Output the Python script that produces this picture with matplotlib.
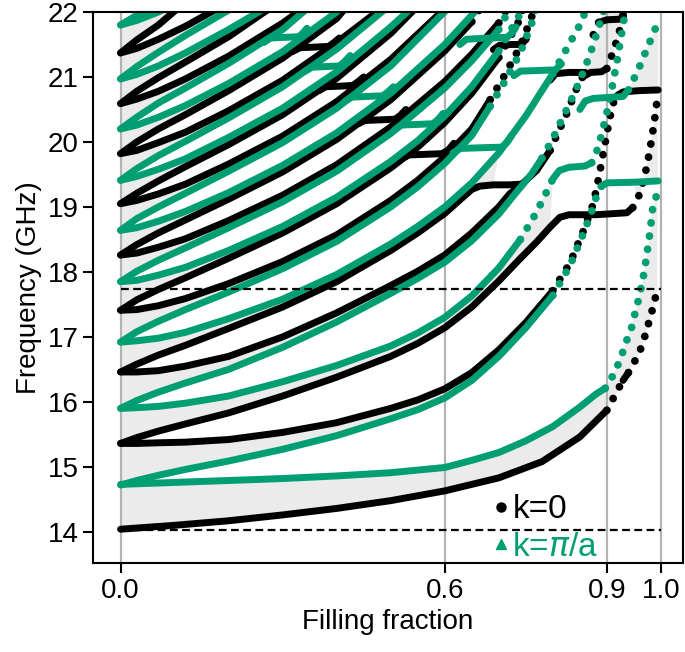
import numpy as np
import matplotlib.pyplot as plt

plt.rcParams['font.family'] = ['Liberation Sans', 'DejaVu Sans']

GREEN = '#009E73'

# band edges: (filling fraction, frequency in GHz)
# ---- k=0 (black) ----
b01 = [(0.0, 14.04), (0.1, 14.1), (0.2, 14.17), (0.3, 14.26), (0.4, 14.36), (0.5, 14.48),
       (0.6, 14.63), (0.7, 14.83), (0.78, 15.08), (0.85, 15.46), (0.9, 15.87), (0.918, 16.15),
       (0.93, 16.33), (0.94, 16.45), (0.95, 16.6), (0.96, 16.75), (0.966, 16.9), (0.972, 17.05),
       (0.977, 17.2), (0.982, 17.35), (0.987, 17.5), (0.993, 17.72)]
b02 = [(0, 15.36), (0.03, 15.36), (0.07, 15.37), (0.12, 15.38), (0.2, 15.42), (0.3, 15.53),
       (0.4, 15.68), (0.5, 15.9), (0.55, 16.03), (0.6, 16.2), (0.65, 16.45), (0.7, 16.8),
       (0.75, 17.22), (0.8, 17.71), (0.832, 18.14), (0.857, 18.64), (0.875, 19.05),
       (0.885, 19.45), (0.895, 19.9), (0.905, 20.35), (0.912, 20.6), (0.92, 20.72),
       (0.93, 20.77), (0.96, 20.79), (0.995, 20.8)]
b03 = [(0, 15.36), (0.03, 15.45), (0.07, 15.55), (0.12, 15.66), (0.2, 15.83), (0.3, 16.09),
       (0.4, 16.38), (0.5, 16.7), (0.55, 16.9), (0.6, 17.14), (0.65, 17.46), (0.7, 17.86),
       (0.739, 18.2), (0.77, 18.46), (0.795, 18.69), (0.813, 18.84), (0.83, 18.88),
       (0.88, 18.88), (0.937, 18.91), (0.948, 18.99), (0.955, 19.1), (0.962, 19.22),
       (0.968, 19.42), (0.974, 19.62), (0.979, 19.85), (0.984, 20.1), (0.989, 20.38),
       (0.993, 20.64)]
b04 = [(0, 16.46), (0.03, 16.46), (0.07, 16.48), (0.12, 16.55), (0.2, 16.7), (0.3, 17.0),
       (0.4, 17.37), (0.5, 17.79), (0.55, 18.01), (0.6, 18.26), (0.65, 18.6), (0.7, 19.0),
       (0.72, 19.2), (0.74, 19.33), (0.77, 19.56), (0.795, 19.87), (0.81, 20.15),
       (0.826, 20.44), (0.844, 20.82), (0.855, 21.0), (0.87, 21.07), (0.89, 21.08),
       (0.9, 21.13), (0.91, 21.35), (0.92, 21.6), (0.928, 21.85), (0.934, 22.05)]
b05 = [(0, 16.46), (0.03, 16.58), (0.07, 16.72), (0.12, 16.87), (0.2, 17.13), (0.3, 17.46),
       (0.4, 17.85), (0.5, 18.33), (0.55, 18.6), (0.6, 18.9), (0.65, 19.27), (0.665, 19.32),
       (0.69, 19.34), (0.72, 19.34), (0.74, 19.35)]
b06 = [(0, 17.41), (0.03, 17.42), (0.07, 17.48), (0.12, 17.59), (0.2, 17.82), (0.3, 18.16),
       (0.4, 18.57), (0.5, 19.1), (0.55, 19.41), (0.6, 19.77), (0.65, 20.2), (0.684, 20.65),
       (0.709, 21.0), (0.739, 21.46), (0.76, 21.9), (0.767, 22.1)]
b07 = [(0, 17.41), (0.03, 17.57), (0.07, 17.73), (0.12, 17.91), (0.2, 18.21), (0.3, 18.6),
       (0.4, 19.05), (0.5, 19.6), (0.55, 19.92), (0.6, 20.3), (0.65, 20.75), (0.7, 21.3),
       (0.74, 21.9), (0.745, 22.05)]
b08 = [(0, 18.26), (0.03, 18.29), (0.07, 18.38), (0.12, 18.51), (0.2, 18.79), (0.3, 19.18),
       (0.4, 19.65), (0.5, 20.23), (0.6, 20.93), (0.65, 21.35), (0.7, 21.83), (0.715, 22.05)]
b09 = [(0, 18.26), (0.03, 18.42), (0.07, 18.6), (0.12, 18.8), (0.2, 19.12), (0.3, 19.54),
       (0.4, 20.04), (0.5, 20.65), (0.6, 21.4), (0.65, 21.85), (0.665, 22.05)]
b10 = [(0, 19.05), (0.03, 19.1), (0.07, 19.2), (0.12, 19.35), (0.2, 19.66), (0.3, 20.09),
       (0.4, 20.62), (0.5, 21.27), (0.6, 22.05)]
b11 = [(0, 19.05), (0.03, 19.21), (0.07, 19.4), (0.12, 19.62), (0.2, 19.96), (0.3, 20.42),
       (0.4, 20.98), (0.5, 21.67), (0.545, 22.05)]
b12 = [(0, 19.82), (0.03, 19.87), (0.07, 19.99), (0.12, 20.15), (0.2, 20.48), (0.3, 20.95),
       (0.4, 21.53), (0.49, 22.1)]
b13 = [(0, 19.82), (0.03, 20.0), (0.07, 20.2), (0.12, 20.42), (0.2, 20.79), (0.3, 21.29),
       (0.4, 21.9), (0.415, 22.05)]
b14 = [(0, 20.59), (0.03, 20.66), (0.07, 20.78), (0.12, 20.97), (0.2, 21.32), (0.3, 21.83),
       (0.34, 22.07)]
b15 = [(0, 20.59), (0.03, 20.78), (0.07, 20.99), (0.12, 21.23), (0.2, 21.62), (0.275, 22.05)]
b16 = [(0, 21.37), (0.03, 21.44), (0.07, 21.58), (0.12, 21.78), (0.2, 22.15)]
b17 = [(0, 21.37), (0.03, 21.57), (0.07, 21.8), (0.105, 22.05)]
# k=0 plateaus (avoided crossings)
bs1 = [(0.318, 21.39), (0.332, 21.45), (0.36, 21.46), (0.385, 21.47), (0.395, 21.53), (0.405, 21.6)]
bs2 = [(0.367, 20.79), (0.38, 20.85), (0.41, 20.86), (0.43, 20.87), (0.44, 20.93), (0.45, 21.0)]
bs3 = [(0.44, 20.28), (0.452, 20.33), (0.48, 20.34), (0.508, 20.35), (0.518, 20.41), (0.528, 20.5)]
bs4 = [(0.52, 19.74), (0.534, 19.8), (0.565, 19.81), (0.595, 19.82), (0.607, 19.88), (0.617, 19.98)]
bs5 = [(0.69, 21.42), (0.702, 21.49), (0.725, 21.5), (0.742, 21.5), (0.75, 21.58), (0.755, 21.68)]
bs6 = [(0.795, 20.95), (0.805, 21.05), (0.83, 21.07), (0.86, 21.07)]
bs7 = [(0.875, 21.65), (0.885, 21.84), (0.9, 21.88), (0.925, 21.89), (0.93, 21.95), (0.933, 22.05)]

# ---- k=pi/a (green) ----
g01 = [(0.0, 14.73), (0.1, 14.76), (0.2, 14.79), (0.3, 14.82), (0.4, 14.86), (0.5, 14.91),
       (0.6, 14.99), (0.65, 15.1), (0.7, 15.22), (0.75, 15.4), (0.8, 15.62), (0.85, 15.92),
       (0.88, 16.12), (0.897, 16.21), (0.906, 16.33), (0.915, 16.46), (0.923, 16.62),
       (0.931, 16.8), (0.939, 17.0), (0.946, 17.15), (0.952, 17.36), (0.96, 17.62),
       (0.967, 17.9), (0.973, 18.21), (0.98, 18.62), (0.985, 18.99), (0.994, 19.23)]
g02 = [(0, 14.72), (0.03, 14.79), (0.07, 14.87), (0.12, 14.96), (0.2, 15.09), (0.3, 15.27),
       (0.4, 15.48), (0.5, 15.74), (0.55, 15.88), (0.6, 16.06), (0.65, 16.33), (0.7, 16.7),
       (0.75, 17.14), (0.8, 17.64), (0.832, 18.1), (0.857, 18.6), (0.875, 19.0), (0.882, 19.2),
       (0.89, 19.32), (0.9, 19.37), (0.95, 19.38), (0.995, 19.4)]
g03 = [(0, 15.9), (0.03, 15.91), (0.07, 15.93), (0.12, 15.98), (0.2, 16.09), (0.3, 16.31),
       (0.4, 16.56), (0.5, 16.86), (0.55, 17.06), (0.6, 17.3), (0.65, 17.63), (0.7, 18.06),
       (0.74, 18.5), (0.77, 18.92), (0.789, 19.24), (0.8, 19.43), (0.812, 19.56), (0.83, 19.61),
       (0.86, 19.63), (0.872, 19.68), (0.88, 19.82), (0.89, 20.1), (0.9, 20.45), (0.91, 20.85),
       (0.92, 21.3), (0.93, 21.8), (0.936, 22.1)]
g04 = [(0, 15.9), (0.03, 16.02), (0.07, 16.15), (0.12, 16.29), (0.2, 16.5), (0.3, 16.84),
       (0.4, 17.23), (0.5, 17.67), (0.55, 17.9), (0.6, 18.15), (0.65, 18.48), (0.7, 18.89),
       (0.73, 19.2), (0.76, 19.5), (0.78, 19.75), (0.8, 20.05), (0.82, 20.4), (0.84, 20.75),
       (0.86, 21.15), (0.875, 21.5), (0.89, 21.9), (0.895, 22.05)]
g05 = [(0, 16.92), (0.03, 16.94), (0.07, 16.98), (0.12, 17.07), (0.2, 17.28), (0.3, 17.58),
       (0.4, 17.96), (0.5, 18.43), (0.55, 18.7), (0.6, 19.0), (0.65, 19.37), (0.7, 19.83),
       (0.75, 20.4), (0.8, 21.05), (0.85, 21.8), (0.865, 22.1)]
g06 = [(0, 16.92), (0.03, 17.08), (0.07, 17.24), (0.12, 17.42), (0.2, 17.69), (0.3, 18.05),
       (0.4, 18.47), (0.5, 19.0), (0.55, 19.31), (0.6, 19.67), (0.65, 20.1), (0.684, 20.55),
       (0.709, 20.9), (0.739, 21.36), (0.76, 21.8), (0.768, 22.05)]
g07 = [(0, 17.85), (0.03, 17.87), (0.07, 17.95), (0.12, 18.07), (0.2, 18.33), (0.3, 18.7),
       (0.4, 19.15), (0.5, 19.7), (0.55, 20.02), (0.6, 20.4), (0.65, 20.85), (0.7, 21.4),
       (0.745, 22.05)]
g08 = [(0, 17.85), (0.03, 18.01), (0.07, 18.18), (0.12, 18.37), (0.2, 18.68), (0.3, 19.08),
       (0.4, 19.55), (0.5, 20.13), (0.6, 20.83), (0.65, 21.25), (0.7, 21.73), (0.72, 22.05)]
g09 = [(0, 18.64), (0.03, 18.68), (0.07, 18.78), (0.12, 18.93), (0.2, 19.22), (0.3, 19.64),
       (0.4, 20.14), (0.5, 20.75), (0.6, 21.5), (0.65, 21.95), (0.66, 22.05)]
g10 = [(0, 18.64), (0.03, 18.82), (0.07, 19.0), (0.12, 19.21), (0.2, 19.55), (0.3, 19.99),
       (0.4, 20.52), (0.5, 21.17), (0.605, 22.05)]
g11 = [(0, 19.41), (0.03, 19.47), (0.07, 19.58), (0.12, 19.74), (0.2, 20.07), (0.3, 20.52),
       (0.4, 21.08), (0.5, 21.77), (0.54, 22.07)]
g12 = [(0, 19.41), (0.03, 19.59), (0.07, 19.79), (0.12, 20.01), (0.2, 20.37), (0.3, 20.85),
       (0.4, 21.43), (0.495, 22.08)]
g13 = [(0, 20.2), (0.03, 20.26), (0.07, 20.38), (0.12, 20.56), (0.2, 20.9), (0.3, 21.39),
       (0.4, 22.0), (0.41, 22.07)]
g14 = [(0, 20.2), (0.03, 20.38), (0.07, 20.6), (0.12, 20.83), (0.2, 21.21), (0.3, 21.73),
       (0.345, 22.05)]
g15 = [(0, 20.97), (0.03, 21.04), (0.07, 21.17), (0.12, 21.37), (0.2, 21.73), (0.27, 22.07)]
g16 = [(0, 20.97), (0.03, 21.16), (0.07, 21.38), (0.12, 21.64), (0.2, 22.03)]
g17 = [(0, 21.8), (0.03, 21.87), (0.07, 22.0), (0.1, 22.13)]
g18 = [(0, 21.8), (0.03, 21.95), (0.05, 22.05)]
# k=pi/a plateaus
gs1 = [(0.265, 21.53), (0.278, 21.6), (0.305, 21.61), (0.33, 21.62), (0.338, 21.68), (0.345, 21.75)]
gs2 = [(0.342, 21.09), (0.354, 21.15), (0.38, 21.16), (0.405, 21.17), (0.415, 21.24), (0.425, 21.33)]
gs3 = [(0.416, 20.63), (0.428, 20.69), (0.455, 20.7), (0.485, 20.71), (0.495, 20.77), (0.505, 20.85)]
gs4 = [(0.508, 20.19), (0.52, 20.26), (0.55, 20.27), (0.578, 20.28), (0.588, 20.35), (0.597, 20.44)]
gs5 = [(0.615, 19.83), (0.628, 19.9), (0.665, 19.91), (0.705, 19.92), (0.715, 19.99), (0.724, 20.1)]
gs6 = [(0.628, 21.5), (0.64, 21.58), (0.68, 21.6), (0.715, 21.61), (0.725, 21.68), (0.732, 21.77)]
gs7 = [(0.728, 21.02), (0.74, 21.09), (0.775, 21.1), (0.805, 21.11), (0.815, 21.2), (0.822, 21.3)]
gs8 = [(0.85, 20.5), (0.86, 20.63), (0.875, 20.67), (0.93, 20.7), (0.94, 20.8), (0.95, 20.97),
       (0.96, 21.15), (0.97, 21.35), (0.98, 21.55), (0.99, 21.75), (0.995, 21.85)]

black_curves = [b01, b02, b03, b04, b05, b06, b07, b08, b09, b10, b11, b12, b13, b14, b15,
                b16, b17, bs1, bs2, bs3, bs4, bs5, bs6, bs7]
green_curves = [g01, g02, g03, g04, g05, g06, g07, g08, g09, g10, g11, g12, g13, g14, g15,
                g16, g17, g18, gs1, gs2, gs3, gs4, gs5, gs6, gs7, gs8]
# allowed bands: (edge, edge, filling-fraction range shaded)
bands = [(b01, g01, 0.0, 1.0), (g02, b02, 0.0, 0.88), (b03, g03, 0.0, 0.8),
         (g04, b04, 0.0, 1.0), (b05, g05, 0.0, 0.7), (g06, b06, 0.0, 1.0),
         (b07, g07, 0.0, 1.0), (g08, b08, 0.0, 1.0), (b09, g09, 0.0, 1.0),
         (g10, b10, 0.0, 1.0), (b11, g11, 0.0, 1.0), (g12, b12, 0.0, 1.0),
         (b13, g13, 0.0, 1.0), (g14, b14, 0.0, 1.0), (b15, g15, 0.0, 1.0),
         (g16, b16, 0.0, 1.0), (b17, g17, 0.0, 1.0),
         (b03, g02, 0.95, 1.0), (gs8, b02, 0.93, 1.0)]

cutoffs = [14.03, 17.73]
xticks = [0.0, 0.6, 0.9, 1.0]
xticklabels = ['0.0', '0.6', '0.9', '1.0']
yticks = [14, 15, 16, 17, 18, 19, 20, 21, 22]

fig = plt.figure(figsize=(6.85, 6.52), dpi=100)
ax = fig.add_axes([0.1358, 0.1365, 0.8613, 0.8451])

for c in xticks:
    ax.axvline(c, color='#b3b3b3', lw=1.6, zorder=1)

for lo, hi, xmin, xmax in bands:
    lo = np.array(lo)
    hi = np.array(hi)
    lo = lo[(lo[:, 0] >= xmin) & (lo[:, 0] <= xmax)]
    hi = hi[(hi[:, 0] >= xmin) & (hi[:, 0] <= xmax)]
    ax.fill(np.concatenate([lo[:, 0], hi[::-1, 0]]),
            np.concatenate([lo[:, 1], hi[::-1, 1]]),
            color='#ebebeb', lw=0, zorder=0)


def draw(curve, color):
    p = np.array(curve)
    dx = np.abs(np.diff(p[:, 0])) * 540
    df = np.abs(np.diff(p[:, 1])) * 65
    steep = df > 1.6 * dx
    i = 0
    n = len(steep)
    while i < n:
        j = i
        while j < n and steep[j] == steep[i]:
            j += 1
        seg = p[i:j + 1]
        if steep[i]:
            # sparse samples on steep branches show up as separate dots
            ax.plot(seg[:, 0], seg[:, 1], color=color, lw=5.6, ls=(0, (0.01, 1.7)),
                    dash_capstyle='round', zorder=3)
        else:
            ax.plot(seg[:, 0], seg[:, 1], color=color, lw=5.0,
                    solid_capstyle='round', solid_joinstyle='round', zorder=3)
        i = j


for c in black_curves:
    draw(c, 'black')
for c in green_curves:
    draw(c, GREEN)

for y in cutoffs:
    ax.plot([0, 1], [y, y], color='black', lw=1.6, ls=(0, (3.5, 2)), zorder=4)

ax.set_xlim(-0.051, 1.041)
ax.set_ylim(13.52, 22.0)
ax.set_xticks(xticks)
ax.set_xticklabels(xticklabels)
ax.set_yticks(yticks)
ax.tick_params(labelsize=20, length=7, width=1.5)
for s in ax.spines.values():
    s.set_linewidth(1.5)
    s.set_zorder(5)
ax.set_xlabel('Filling fraction', fontsize=20)
ax.set_ylabel('Frequency (GHz)', fontsize=20)

h0, = ax.plot([], [], 'o', color='black', ms=6.5)
h1, = ax.plot([], [], '^', color=GREEN, ms=6.5)
leg = ax.legend([h0, h1], ['k=0', r'k=$\pi$/a'], loc='lower right',
                bbox_to_anchor=(0.885, -0.03), frameon=False, fontsize=24,
                handlelength=0.4, handletextpad=0.15, labelspacing=0.2, borderpad=0)
for t, col in zip(leg.get_texts(), ['black', GREEN]):
    t.set_color(col)

fig.savefig('out.png', dpi=100)
